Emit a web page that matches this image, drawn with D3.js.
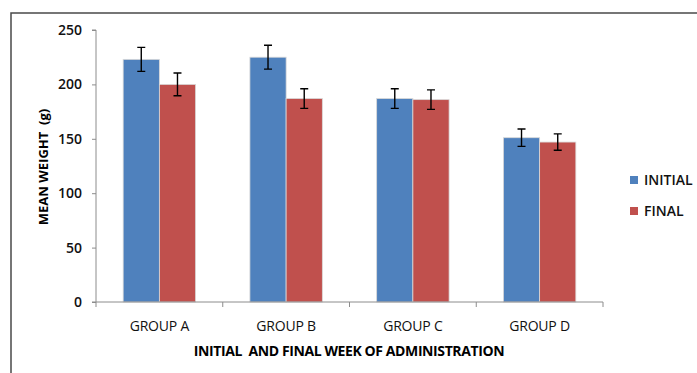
<!DOCTYPE html>
<html><head><meta charset="utf-8">
<script src="https://cdn.jsdelivr.net/npm/d3@7"></script>
<style>body{margin:0;background:#fff}svg{display:block}</style>
</head><body>
<svg id="c" width="697" height="373"></svg>
<script>
const categories = ["GROUP A","GROUP B","GROUP C","GROUP D"];
const seriesNames = ["INITIAL","FINAL"];
const initialValues = [223, 225, 187, 151];
const finalValues = [200, 187, 186, 147];
const initialErrors = [11, 11, 9, 8];
const finalErrors = [10.5, 9, 9, 7.5];
const yTicks = [0, 50, 100, 150, 200, 250];
const colors = ["#4F81BD", "#C0504D"];

const svg = d3.select("#c");
const font = "'Open Sans', sans-serif";
// chart frame
svg.append("path").attr("d","M11,380 L11,13 L700,13").attr("fill","none").attr("stroke","#4a4a4a").attr("stroke-width",1.5);

const x0 = 96, x1 = 603, yTop = 30, yBot = 302;
const x = d3.scaleBand().domain(categories).range([x0, x1]).paddingInner(0).paddingOuter(0);
const y = d3.scaleLinear().domain([0, 250]).range([yBot, yTop]);
const bw = x.bandwidth() / 3.5; // gap width 75%
const series = [initialValues, finalValues];
const errs = [initialErrors, finalErrors];

const g = svg.append("g");
series.forEach((vals, si) => {
  g.selectAll(".b"+si).data(vals).enter().append("rect")
    .attr("x", (d,i) => x(categories[i]) + bw*0.75 + si*bw)
    .attr("y", d => y(d))
    .attr("width", bw)
    .attr("height", d => yBot - y(d))
    .attr("fill", colors[si])
    .attr("stroke", "#d9d9d9").attr("stroke-width", 0.8);
});
series.forEach((vals, si) => {
  vals.forEach((v, i) => {
    const cx = x(categories[i]) + bw*0.75 + si*bw + bw/2;
    const e = errs[si][i];
    const p = `M${cx},${y(v+e)}L${cx},${y(v-e)}M${cx-4},${y(v+e)}L${cx+4},${y(v+e)}M${cx-4},${y(v-e)}L${cx+4},${y(v-e)}`;
    g.append("path").attr("d", p).attr("stroke","#000").attr("stroke-width",1.4).attr("fill","none");
  });
});

// y axis
const ya = svg.append("g").attr("transform",`translate(${x0},0)`)
  .call(d3.axisLeft(y).tickValues(yTicks).tickSize(4).tickPadding(10));
ya.select(".domain").attr("stroke","#8c8c8c").attr("d",`M-4,${yTop}H0V${yBot}H-4`);
ya.selectAll(".tick line").attr("stroke","#8c8c8c");
ya.selectAll("text").attr("font-family",font).attr("font-size",14).attr("font-weight",600).attr("fill","#111");

// x axis
const xa = svg.append("g").attr("transform",`translate(0,${yBot})`);
xa.append("path").attr("d",`M${x0},0H${x1}`).attr("stroke","#8c8c8c");
const bounds = categories.map(c => x(c)).concat([x1]);
xa.selectAll("line.t").data(bounds).enter().append("line")
  .attr("x1", d=>d).attr("x2", d=>d).attr("y1",0).attr("y2",5).attr("stroke","#8c8c8c");
xa.selectAll("text").data(categories).enter().append("text")
  .attr("x", d => x(d) + x.bandwidth()/2).attr("y", 29)
  .attr("text-anchor","middle").attr("font-family",font).attr("font-size",14).attr("fill","#111")
  .attr("letter-spacing","-0.2")
  .text(d => d);

// titles
svg.append("text").attr("x", 349).attr("y", 356).attr("text-anchor","middle")
  .attr("font-family",font).attr("font-size",14).attr("font-weight",700).attr("fill","#000")
  .attr("letter-spacing","-0.4").attr("xml:space","preserve")
  .text("INITIAL  AND FINAL WEEK OF ADMINISTRATION");
svg.append("text").attr("transform","translate(48,167) rotate(-90)").attr("text-anchor","middle")
  .attr("font-family",font).attr("font-size",13).attr("font-weight",700).attr("fill","#000")
  .attr("xml:space","preserve")
  .text("MEAN WEIGHT  (g)");

// legend
const lg = svg.append("g");
seriesNames.forEach((n, i) => {
  const ly = 180 + i*31;
  lg.append("rect").attr("x",630).attr("y",ly-4).attr("width",8).attr("height",8).attr("fill",colors[i]);
  lg.append("text").attr("x",644).attr("y",ly+5).attr("font-family",font).attr("font-size",14)
    .attr("font-weight",600).attr("fill","#111").text(n);
});
</script>
</body></html>
